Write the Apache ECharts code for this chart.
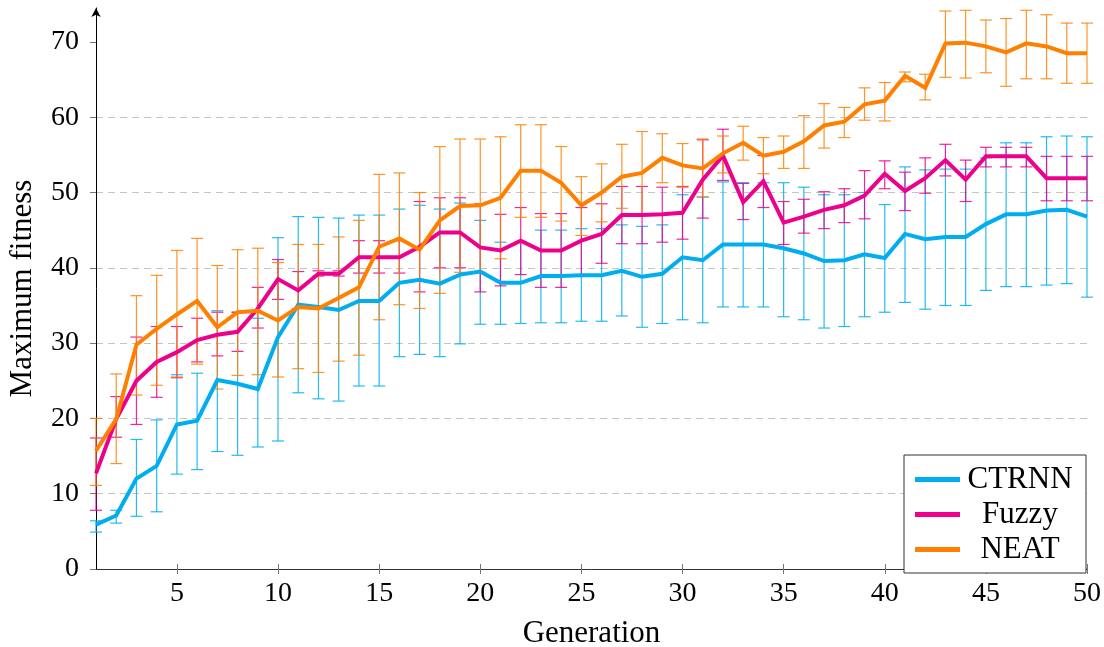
<!DOCTYPE html>
<html>
<head>
<meta charset="utf-8">
<title>Maximum fitness per generation</title>
<script src="https://cdn.jsdelivr.net/npm/echarts@6/dist/echarts.min.js"></script>
<style>
  html, body { margin: 0; padding: 0; background: #fff; }
  #chart { width: 1104px; height: 647px; }
</style>
</head>
<body>
<div id="chart"></div>
<script>
// Generations 1..50
const generations = Array.from({ length: 50 }, (_, i) => i + 1);

// CTRNN: mean, lower and upper end of the error bar
const ctrnnMean = [5.9, 7.1, 12.0, 13.7, 19.2, 19.7, 25.1, 24.6, 23.9, 30.8,
  35.1, 34.8, 34.4, 35.6, 35.6, 38.0, 38.4, 37.9, 39.1, 39.5,
  38.0, 38.0, 38.9, 38.9, 39.0, 39.0, 39.6, 38.8, 39.2, 41.4,
  41.0, 43.1, 43.1, 43.1, 42.6, 41.9, 40.9, 41.0, 41.8, 41.3,
  44.5, 43.8, 44.1, 44.1, 45.8, 47.1, 47.1, 47.6, 47.7, 46.8];
const ctrnnLow = [4.9, 6.1, 7.0, 7.6, 12.6, 13.2, 15.6, 15.1, 16.2, 17.0,
  23.4, 22.6, 22.3, 24.3, 24.3, 28.2, 28.5, 28.2, 29.9, 32.5,
  32.5, 32.6, 32.7, 32.7, 32.9, 32.9, 33.6, 32.1, 32.6, 33.1,
  32.7, 34.8, 34.8, 34.8, 33.5, 33.1, 32.0, 32.2, 33.5, 34.1,
  35.4, 34.5, 35.0, 35.0, 37.0, 37.5, 37.5, 37.7, 37.9, 36.1];
const ctrnnHigh = [6.4, 7.8, 17.2, 19.8, 25.8, 26.0, 34.3, 34.1, 33.3, 44.0,
  46.8, 46.7, 46.6, 47.0, 47.0, 47.8, 48.3, 47.8, 48.6, 46.3,
  43.4, 43.4, 45.0, 45.0, 45.2, 45.2, 45.7, 45.5, 45.7, 49.7,
  49.4, 51.4, 51.3, 51.3, 51.3, 50.7, 49.7, 49.7, 50.0, 48.4,
  53.4, 53.0, 53.1, 53.1, 54.6, 56.6, 56.6, 57.4, 57.5, 57.4];

// Fuzzy
const fuzzyMean = [12.7, 19.9, 25.0, 27.5, 28.8, 30.4, 31.1, 31.5, 34.6, 38.5,
  37.0, 39.2, 39.2, 41.4, 41.4, 41.4, 42.8, 44.7, 44.7, 42.7,
  42.3, 43.6, 42.3, 42.3, 43.6, 44.5, 47.0, 47.0, 47.1, 47.3,
  51.7, 54.9, 48.7, 51.5, 46.0, 46.8, 47.7, 48.3, 49.6, 52.5,
  50.2, 51.9, 54.3, 51.7, 54.8, 54.8, 54.8, 51.9, 51.9, 51.9];
const fuzzyLow = [7.8, 17.5, 19.2, 22.8, 25.4, 27.5, 28.3, 28.9, 32.0, 35.8,
  34.6, 38.9, 38.9, 39.3, 39.3, 39.3, 36.8, 40.0, 40.0, 36.8,
  37.6, 39.1, 37.4, 37.4, 39.0, 40.6, 43.2, 43.2, 43.4, 43.8,
  46.6, 51.6, 46.4, 48.0, 43.1, 44.6, 45.2, 46.0, 46.5, 50.5,
  47.6, 49.9, 52.2, 48.8, 53.4, 53.4, 53.4, 48.9, 48.9, 48.9];
const fuzzyHigh = [17.4, 22.9, 30.8, 32.2, 32.2, 33.3, 34.1, 34.1, 37.4, 41.1,
  39.5, 39.6, 39.6, 43.6, 43.6, 43.6, 48.8, 49.3, 49.3, 48.5,
  47.1, 48.0, 47.2, 47.2, 48.0, 48.5, 50.8, 50.8, 50.7, 50.8,
  57.0, 58.4, 51.2, 54.9, 48.8, 49.1, 50.1, 50.5, 52.9, 54.2,
  52.7, 54.6, 56.4, 54.3, 56.0, 56.0, 56.0, 54.8, 54.8, 54.8];

// NEAT
const neatMean = [15.7, 19.9, 29.8, 31.9, 33.8, 35.6, 32.1, 34.1, 34.3, 33.0,
  34.8, 34.6, 36.0, 37.4, 42.8, 43.9, 42.4, 46.3, 48.2, 48.3,
  49.3, 52.9, 52.9, 51.3, 48.3, 50.0, 52.1, 52.6, 54.6, 53.6,
  53.2, 55.2, 56.6, 54.9, 55.4, 56.8, 58.9, 59.4, 61.7, 62.2,
  65.5, 63.9, 69.8, 69.9, 69.4, 68.6, 69.8, 69.4, 68.5, 68.5];
const neatLow = [11.1, 14.0, 23.1, 24.4, 25.5, 27.2, 23.9, 25.7, 25.8, 25.5,
  26.6, 26.1, 27.6, 28.4, 33.1, 35.1, 34.6, 36.6, 39.4, 39.4,
  41.2, 46.7, 46.7, 46.2, 44.3, 46.1, 47.9, 47.1, 51.3, 50.7,
  49.4, 52.6, 54.3, 52.5, 53.2, 53.2, 55.9, 57.3, 59.6, 59.5,
  64.7, 62.3, 65.3, 65.2, 65.9, 64.1, 65.1, 65.1, 64.5, 64.5];
const neatHigh = [20.0, 25.9, 36.3, 39.0, 42.3, 43.9, 40.3, 42.4, 42.6, 40.7,
  43.1, 43.1, 44.1, 46.3, 52.4, 52.6, 50.0, 56.1, 57.1, 57.1,
  57.4, 59.0, 59.0, 56.1, 52.1, 53.8, 56.4, 58.1, 57.8, 56.5,
  57.1, 57.5, 58.8, 57.3, 57.5, 60.2, 61.8, 61.3, 63.9, 64.6,
  66.0, 65.7, 74.1, 74.2, 72.9, 73.1, 74.2, 73.6, 72.5, 72.5];

const xTickValues = [5, 10, 15, 20, 25, 30, 35, 40, 45, 50];
const yTickValues = [0, 10, 20, 30, 40, 50, 60, 70];

const seriesNames = ['CTRNN', 'Fuzzy', 'NEAT'];
const seriesColors = ['#00AEEF', '#EC008C', '#FF8000'];

const FONT = '"Liberation Serif", "DejaVu Serif", serif';

function linePoints(mean) {
  return generations.map((g, i) => [g, mean[i]]);
}
function barPoints(low, high) {
  return generations.map((g, i) => [g, low[i], high[i]]);
}

// Vertical error bar with horizontal caps, positioned through the axis scales
function errorBarRenderer(color) {
  return function (params, api) {
    const x = api.value(0);
    const top = api.coord([x, api.value(2)]);
    const bot = api.coord([x, api.value(1)]);
    const half = 6;
    const style = { stroke: color, lineWidth: 1.2, opacity: 0.85 };
    return {
      type: 'group',
      children: [
        { type: 'line', shape: { x1: top[0], y1: top[1], x2: bot[0], y2: bot[1] }, style },
        { type: 'line', shape: { x1: top[0] - half, y1: top[1], x2: top[0] + half, y2: top[1] }, style },
        { type: 'line', shape: { x1: bot[0] - half, y1: bot[1], x2: bot[0] + half, y2: bot[1] }, style }
      ]
    };
  };
}

const groups = [
  [ctrnnMean, ctrnnLow, ctrnnHigh],
  [fuzzyMean, fuzzyLow, fuzzyHigh],
  [neatMean, neatLow, neatHigh]
];

const series = [];
groups.forEach(([mean, low, high], k) => {
  series.push({
    name: seriesNames[k],
    type: 'line',
    data: linePoints(mean),
    symbol: 'none',
    lineStyle: { color: seriesColors[k], width: 4, join: 'miter' },
    itemStyle: { color: seriesColors[k] },
    animation: false,
    z: 2
  });
  series.push({
    name: seriesNames[k] + ' range',
    type: 'custom',
    data: barPoints(low, high),
    encode: { x: 0, y: [1, 2] },
    renderItem: errorBarRenderer(seriesColors[k]),
    clip: false,
    silent: true,
    animation: false,
    z: 2
  });
});

const chart = echarts.init(document.getElementById('chart'), null, { renderer: 'canvas' });
chart.setOption({
  backgroundColor: '#ffffff',
  animation: false,
  grid: { left: 96, right: 17, top: 8, bottom: 78, containLabel: false, outerBoundsMode: 'none' },
  xAxis: [
    {
      type: 'value',
      min: 1,
      max: 50,
      name: 'Generation',
      nameLocation: 'middle',
      nameGap: 49,
      nameTextStyle: { fontFamily: FONT, fontSize: 31, color: '#000' },
      axisLine: { show: true, lineStyle: { color: '#333', width: 1 }, symbol: ['none', 'arrow'], symbolSize: [6, 7] },
      axisTick: { show: true, length: 5, lineStyle: { color: '#777' }, customValues: xTickValues },
      axisLabel: { customValues: xTickValues, fontFamily: FONT, fontSize: 28, color: '#000', margin: 11 },
      splitLine: { show: false }
    },
    {
      type: 'value',
      min: 1,
      max: 50,
      position: 'bottom',
      axisLine: { show: false },
      axisTick: { show: true, inside: true, length: 5, lineStyle: { color: '#777' }, customValues: xTickValues },
      axisLabel: { show: false },
      splitLine: { show: false }
    }
  ],
  yAxis: {
    type: 'value',
    min: 0,
    max: 74.5,
    name: 'Maximum fitness',
    nameLocation: 'middle',
    nameGap: 58,
    nameRotate: 90,
    nameTextStyle: { fontFamily: FONT, fontSize: 31, color: '#000' },
    axisLine: { show: true, lineStyle: { color: '#000', width: 1 }, symbol: ['none', 'arrow'], symbolSize: [7, 9] },
    axisTick: { show: true, length: 6, lineStyle: { color: '#777' }, customValues: yTickValues },
    axisLabel: { customValues: yTickValues, fontFamily: FONT, fontSize: 28, color: '#000', margin: 17 },
    splitLine: { show: true, showMinLine: false, showMaxLine: false, lineStyle: { color: '#c4c4c4', width: 1, type: [7, 5] } }
  },
  legend: {
    orient: 'vertical',
    left: 904,
    top: 455,
    padding: [9, 11, 8, 11],
    itemGap: 4,
    itemWidth: 45,
    itemHeight: 5,
    borderColor: '#333',
    borderWidth: 1,
    borderRadius: 0,
    backgroundColor: '#ffffff',
    data: seriesNames.map((n, k) => ({ name: n, icon: 'rect', itemStyle: { color: seriesColors[k] } })),
    formatter: name => '{n|' + name + '}',
    textStyle: {
      fontFamily: FONT, fontSize: 31, color: '#000',
      rich: { n: { width: 110, align: 'center', fontFamily: FONT, fontSize: 31, lineHeight: 31, color: '#000' } }
    },
    selectedMode: false
  },
  series
});
</script>
</body>
</html>
